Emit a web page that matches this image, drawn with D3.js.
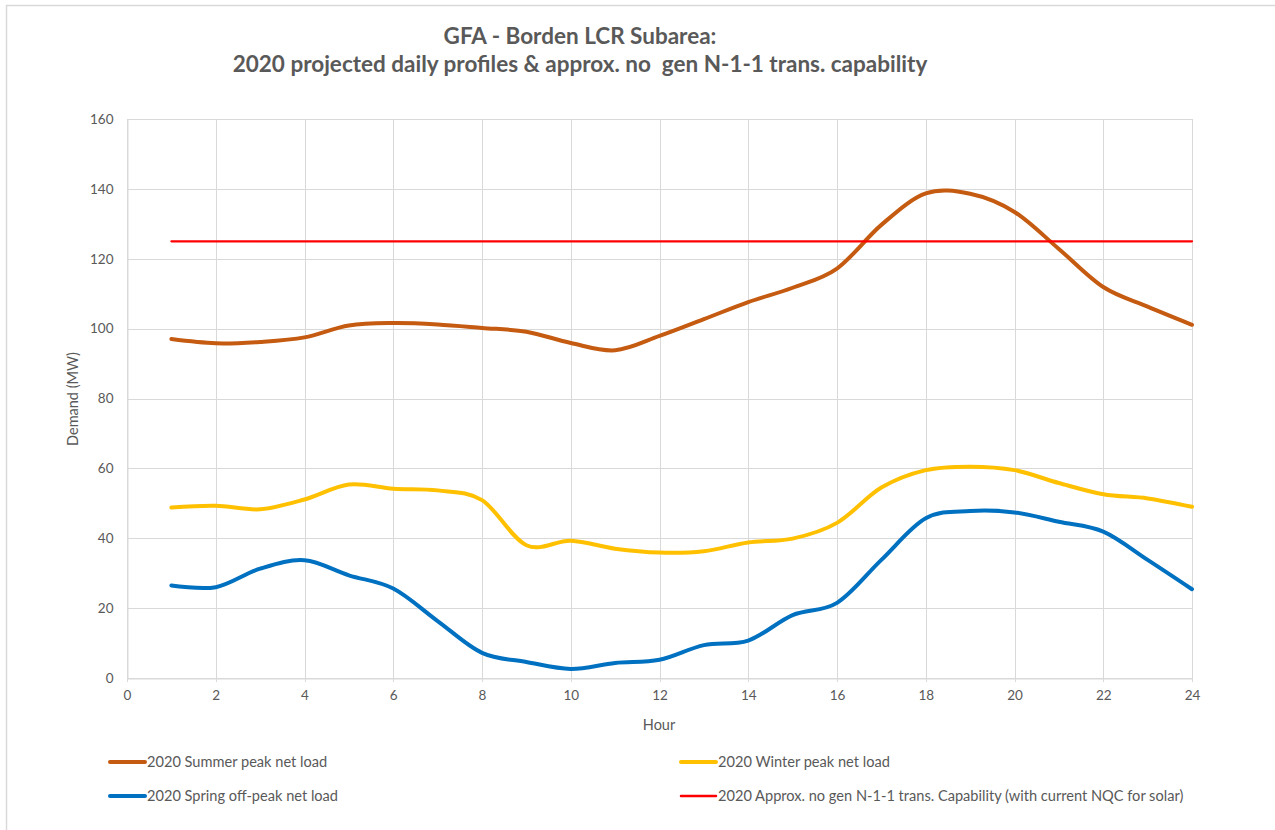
<!DOCTYPE html>
<html>
<head>
<meta charset="utf-8">
<script src="https://cdn.jsdelivr.net/npm/d3@7"></script>
<style>
  html, body { margin: 0; padding: 0; background: #fff; }
  svg { display: block; font-family: Lato, "Open Sans", sans-serif; }
  .keep-space { white-space: pre; }
</style>
</head>
<body>
<svg id="chart" width="1275" height="830"></svg>
<script>
// Hourly profiles (MW) for hours 1..24
const hours = d3.range(1, 25);
const summerPeak = [97.0, 95.8, 96.2, 97.5, 100.9, 101.6, 101.2, 100.2, 99.1, 95.9, 93.8, 97.9,
                    102.7, 107.6, 111.7, 117.2, 129.7, 138.7, 138.6, 133.4, 122.8, 111.9, 106.3, 101.1];
const winterPeak = [48.8, 49.3, 48.3, 51.1, 55.4, 54.2, 53.7, 50.9, 38.0, 39.3, 37.0, 35.9,
                    36.3, 38.8, 39.9, 44.4, 54.5, 59.5, 60.5, 59.5, 55.8, 52.6, 51.4, 49.0];
const springOffPeak = [26.5, 26.0, 31.3, 33.7, 29.4, 25.6, 16.3, 7.2, 4.6, 2.6, 4.3, 5.2,
                       9.4, 10.7, 18.0, 21.5, 33.8, 45.7, 47.8, 47.4, 44.7, 41.9, 33.8, 25.4];
const transCapability = hours.map(() => 125);

const xTicks = d3.range(0, 25, 2);
const yTicks = d3.range(0, 161, 20);

const titleLines = ["GFA - Borden LCR Subarea:",
                    "2020 projected daily profiles & approx. no  gen N-1-1 trans. capability"];

const series = [
  { name: "2020 Summer peak net load", values: summerPeak, color: "#C55A11", width: 4, smooth: true },
  { name: "2020 Winter peak net load", values: winterPeak, color: "#FFC000", width: 4, smooth: true },
  { name: "2020 Spring off-peak net load", values: springOffPeak, color: "#0070C0", width: 4, smooth: true },
  { name: "2020 Approx. no gen N-1-1 trans. Capability (with current NQC for solar)", values: transCapability, color: "#FF0000", width: 2.25, smooth: false }
];

const svg = d3.select("#chart");
const plot = { left: 127, right: 1192, top: 119, bottom: 678 };

// chart frame
svg.append("rect")
  .attr("x", 6.5).attr("y", 5.5)
  .attr("width", 1300).attr("height", 900)
  .attr("fill", "#fff").attr("stroke", "#d9d9d9").attr("stroke-width", 1.5);

const x = d3.scaleLinear().domain([0, 24]).range([plot.left, plot.right]);
const y = d3.scaleLinear().domain([0, 160]).range([plot.bottom, plot.top]);

// gridlines
const grid = svg.append("g");
grid.selectAll("line.h").data(yTicks).join("line")
  .attr("x1", plot.left).attr("x2", plot.right)
  .attr("y1", d => Math.round(y(d)) + 0.5).attr("y2", d => Math.round(y(d)) + 0.5)
  .attr("stroke", "#d9d9d9").attr("stroke-width", 1);
grid.selectAll("line.v").data(xTicks).join("line")
  .attr("x1", d => Math.round(x(d)) + 0.5).attr("x2", d => Math.round(x(d)) + 0.5)
  .attr("y1", plot.top).attr("y2", plot.bottom + 4)
  .attr("stroke", "#d9d9d9").attr("stroke-width", 1);

// axes
const xAxis = svg.append("g")
  .attr("transform", `translate(0,${Math.round(y(0)) + 0.5})`)
  .call(d3.axisBottom(x).tickValues(xTicks).tickSize(0).tickPadding(12));
const yAxis = svg.append("g")
  .attr("transform", `translate(${Math.round(x(0)) + 0.5},0)`)
  .call(d3.axisLeft(y).tickValues(yTicks).tickSize(0).tickPadding(14));
[xAxis, yAxis].forEach(a => {
  a.select(".domain").attr("stroke", "#d9d9d9");
  a.selectAll("text").attr("fill", "#595959").attr("font-size", 13.5)
    .attr("font-family", "Lato, 'Open Sans', sans-serif");
});

// axis titles
svg.append("text").attr("x", 659).attr("y", 730)
  .attr("text-anchor", "middle").attr("fill", "#595959").attr("font-size", 14.5)
  .text("Hour");
svg.append("text")
  .attr("transform", "translate(78,399) rotate(-90)")
  .attr("text-anchor", "middle").attr("fill", "#595959").attr("font-size", 14.5)
  .text("Demand (MW)");

// title
svg.append("text").attr("x", 580).attr("y", 44)
  .attr("text-anchor", "middle").attr("fill", "#595959")
  .attr("font-size", 22.5).attr("font-weight", "bold")
  .text(titleLines[0]);
svg.append("text").attr("class", "keep-space").attr("x", 580).attr("y", 72)
  .attr("text-anchor", "middle").attr("fill", "#595959")
  .attr("font-size", 22.5).attr("font-weight", "bold")
  .text(titleLines[1]);

// series lines
const smoothLine = d3.line().x((d, i) => x(hours[i])).y(d => y(d)).curve(d3.curveCardinal.tension(0));
const straightLine = d3.line().x((d, i) => x(hours[i])).y(d => y(d));
svg.append("g").selectAll("path").data(series).join("path")
  .attr("d", s => (s.smooth ? smoothLine : straightLine)(s.values))
  .attr("fill", "none")
  .attr("stroke", s => s.color)
  .attr("stroke-width", s => s.width)
  .attr("stroke-linecap", "round")
  .attr("stroke-linejoin", "round");

// legend
const legendPos = [
  { lx: 110, ly: 762 }, { lx: 681, ly: 762 },
  { lx: 110, ly: 796 }, { lx: 681, ly: 796 }
];
const legend = svg.append("g").selectAll("g").data(series).join("g")
  .attr("transform", (s, i) => `translate(${legendPos[i].lx},${legendPos[i].ly})`);
legend.append("line")
  .attr("x1", 0).attr("x2", 35).attr("y1", 0).attr("y2", 0)
  .attr("stroke", s => s.color).attr("stroke-width", s => s.smooth ? 4 : 2.5)
  .attr("stroke-linecap", "round");
legend.append("text")
  .attr("x", 37).attr("y", 0).attr("dy", "0.35em")
  .attr("fill", "#595959").attr("font-size", 14.6)
  .text(s => s.name);
</script>
</body>
</html>
